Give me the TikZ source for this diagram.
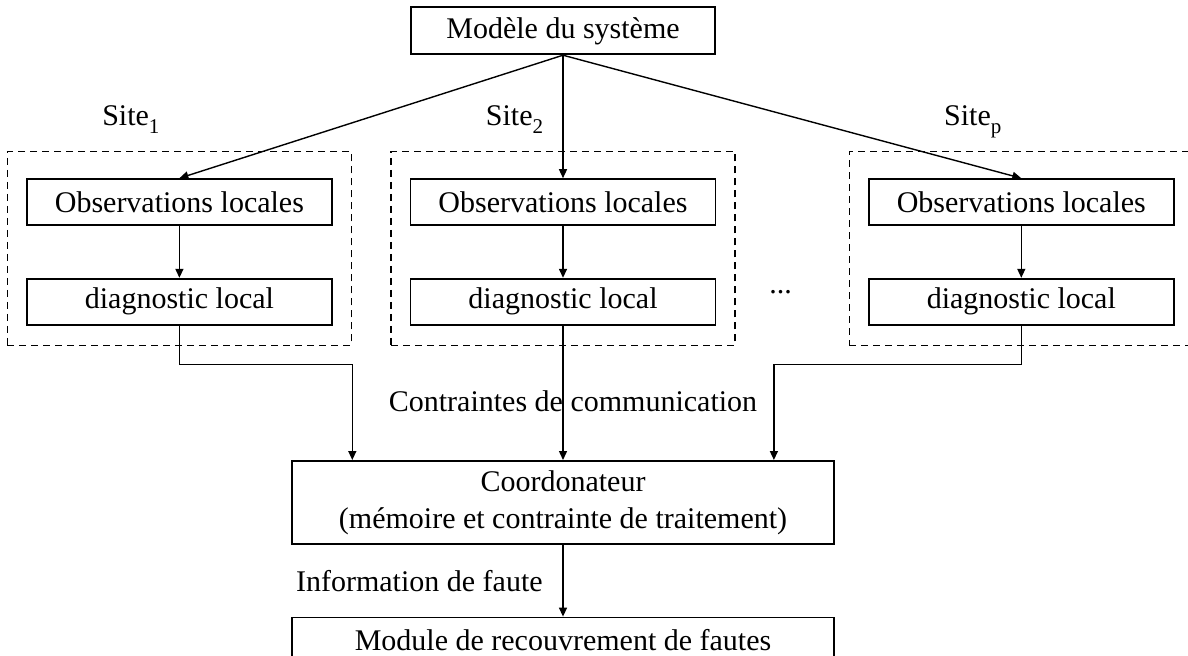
\documentclass[tikz,border=0pt]{standalone}
\usepackage{fontspec}
\setmainfont{Liberation Serif}
\usetikzlibrary{positioning,arrows.meta,fit}

\begin{document}
\begin{tikzpicture}[every node/.style={font=\fontsize{15pt}{18.5pt}\selectfont}, >={Triangle[length=4.5pt,width=4pt]},
 bloc/.style={draw,line width=0.9pt,minimum width=152.5pt,minimum height=23pt,inner sep=2pt},
 site/.style={draw,dash pattern=on 3.5pt off 2.5pt,line width=0.8pt,inner xsep=9.3pt,inner ysep=11.6pt,yshift=1.7pt},
 fleche/.style={->,line width=0.7pt}]
 \useasboundingbox (0,0) rectangle (594pt,-327.5pt);
 \node[bloc,minimum width=152pt,minimum height=23.5pt] (sys) at (281.5pt,-15.4pt) {Modèle du système};
 \node[bloc,below=61.5pt of sys] (obs2) {Observations locales};
 \node[bloc,left=38.4pt of obs2] (obs1) {Observations locales};
 \node[bloc,right=75.75pt of obs2] (obsp) {Observations locales};
 \node[bloc,below=25.9pt of obs1] (diag1) {diagnostic local};
 \node[bloc,below=25.9pt of obs2] (diag2) {diagnostic local};
 \node[bloc,below=25.9pt of obsp] (diagp) {diagnostic local};
 % sites
 \node[site,fit=(obs1)(diag1)] (site1) {};
 \node[site,fit=(obs2)(diag2)] (site2) {};
 \node[site,fit=(obsp)(diagp),inner xsep=10.5pt,xshift=1.2pt] (sitep) {};
 \node[anchor=base] (lbl1) at ([xshift=-24pt,yshift=12.8pt]site1.north) {Site\textsubscript{\raisebox{-2pt}{1}}};
 \node[anchor=base] (lbl2) at ([xshift=-24pt,yshift=12.8pt]site2.north) {Site\textsubscript{\raisebox{-2pt}{2}}};
 \node[anchor=base] (lblp) at ([xshift=-25.2pt,yshift=12.8pt]sitep.north) {Site\textsubscript{\raisebox{-2pt}{p}}};
 \node[inner sep=0pt,right=26.3pt of diag2,yshift=5pt] (dots) {...};
 \node[bloc,minimum width=271pt,minimum height=41.5pt,align=center,below=67.2pt of diag2] (coord) {Coordonateur\\(mémoire et contrainte de traitement)};
 \node[bloc,minimum width=271pt,below=35.9pt of coord] (module) {Module de recouvrement de fautes};
 % connecteurs
 \draw[fleche] (sys.south) -- (obs1.north);
 \draw[fleche] (sys.south) -- (obs2.north);
 \draw[fleche] (sys.south) -- (obsp.north);
 \draw[fleche] (obs1) -- (diag1);
 \draw[fleche] (obs2) -- (diag2);
 \draw[fleche] (obsp) -- (diagp);
 \draw[fleche] (diag1.south) -- ++(0,-19.3pt) -| ([xshift=30.6pt]coord.north west);
 \draw[fleche] (diag2.south) -- node[pos=0.56,xshift=5pt] {Contraintes de communication} (diag2.south |- coord.north);
 \draw[fleche] (diagp.south) -- ++(0,-19.3pt) -| ([xshift=-30.5pt]coord.north east);
 \draw[fleche] (coord) -- node[left=6.5pt] {Information de faute} (module);
\end{tikzpicture}
\end{document}
